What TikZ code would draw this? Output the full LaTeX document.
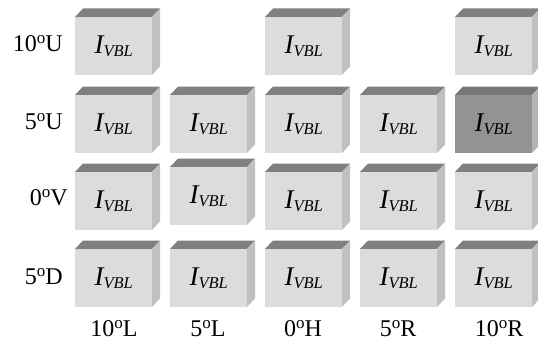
\documentclass[tikz,border=0pt]{standalone}
\usepackage{fontspec}
\setmainfont{Liberation Serif}
\definecolor{frontc}{HTML}{DCDCDC}
\definecolor{topc}{HTML}{808080}
\definecolor{sidec}{HTML}{C0C0C0}
\definecolor{dfrontc}{HTML}{939393}
\definecolor{dtopc}{HTML}{777777}
\definecolor{dsidec}{HTML}{B4B4B4}
\newcommand\ivbl{{\itshape I\raisebox{-3pt}{\fontsize{16.5}{16.5}\selectfont VBL}}}
\newcommand\angl[2]{#1\raisebox{8pt}{\fontsize{17}{17}\selectfont o}#2}
\newcommand\cubebox[6]{%
  \fill[#5] (#1,#2) -- ++(8,-8.5) -- ++(77,0) -- ++(-8,8.5) -- cycle;
  \fill[#6] (#1+77,#2) -- ++(8,-8.5) -- ++(0,58) -- ++(-8,8.5) -- cycle;
  \node[frontbox, fill=#4, anchor=north west] (#3) at (#1,#2) {\ivbl};
}
\begin{document}
\begin{tikzpicture}[x=1pt,y=-1pt,
  frontbox/.style={minimum width=77pt, minimum height=58pt, inner sep=0pt, font=\fontsize{27}{27}\selectfont},
  lab/.style={inner sep=0pt, font=\fontsize{24}{24}\selectfont}]
\useasboundingbox (0,0) rectangle (538,345);
% row 1
\cubebox{75}{17}{a1}{frontc}{topc}{sidec}
\cubebox{265}{17}{a3}{frontc}{topc}{sidec}
\cubebox{455}{17}{a5}{frontc}{topc}{sidec}
% row 2
\cubebox{75}{95}{b1}{frontc}{topc}{sidec}
\cubebox{170}{95}{b2}{frontc}{topc}{sidec}
\cubebox{265}{95}{b3}{frontc}{topc}{sidec}
\cubebox{360}{95}{b4}{frontc}{topc}{sidec}
\cubebox{455}{95}{b5}{dfrontc}{dtopc}{dsidec}
% row 3
\cubebox{75}{172}{c1}{frontc}{topc}{sidec}
\cubebox{170}{167}{c2}{frontc}{topc}{sidec}
\cubebox{265}{172}{c3}{frontc}{topc}{sidec}
\cubebox{360}{172}{c4}{frontc}{topc}{sidec}
\cubebox{455}{172}{c5}{frontc}{topc}{sidec}
% row 4
\cubebox{75}{249}{d1}{frontc}{topc}{sidec}
\cubebox{170}{249}{d2}{frontc}{topc}{sidec}
\cubebox{265}{249}{d3}{frontc}{topc}{sidec}
\cubebox{360}{249}{d4}{frontc}{topc}{sidec}
\cubebox{455}{249}{d5}{frontc}{topc}{sidec}
% row labels
\node[lab, anchor=east] (r1) at (63,44) {\angl{10}{U}};
\node[lab, anchor=east] (r2) at (63,121.5) {\angl{5}{U}};
\node[lab, anchor=east] (r3) at (68,198) {\angl{0}{V}};
\node[lab, anchor=east] (r4) at (63,277) {\angl{5}{D}};
% column labels
\node[lab] (k1) at (114,329) {\angl{10}{L}};
\node[lab] (k2) at (208,329) {\angl{5}{L}};
\node[lab] (k3) at (303,329) {\angl{0}{H}};
\node[lab] (k4) at (398,329) {\angl{5}{R}};
\node[lab] (k5) at (499,329) {\angl{10}{R}};
\end{tikzpicture}
\end{document}
